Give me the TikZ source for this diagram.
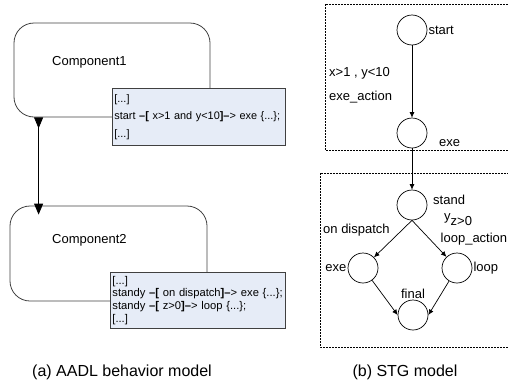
\documentclass[tikz,border=0pt]{standalone}
\usepackage{fontspec}
\setmainfont{Liberation Sans}
\usetikzlibrary{arrows.meta,calc}
\definecolor{codeblue}{RGB}{230,236,247}

\begin{document}
\begin{tikzpicture}[x=1pt,y=-1pt,>=Latex,
	compbox/.style={draw=black!75,rounded corners=20pt,minimum width=196pt,minimum height=94pt,line width=0.8pt},
	codebox/.style={draw=black!75,fill=codeblue,anchor=north west,align=left,inner sep=2pt,line width=0.8pt},
	state/.style={draw,circle,minimum size=30pt,inner sep=0pt,line width=0.7pt},
	lbl/.style={font=\fontsize{13}{15}\selectfont,inner sep=1pt},
	trans/.style={-{Latex[length=5.5pt,width=5pt]},line width=0.7pt},
	region/.style={draw,dash pattern=on 2pt off 1pt,line width=0.6pt}]
	
	\useasboundingbox (0,0) rectangle (508,383);
	
	% ======================================================
	% Left: AADL behavior model
	% ======================================================
	\node[compbox] (comp1) at (112,70) {};
	\node[lbl,anchor=west] (comp1txt) at (51,62) {Component1};
	
	\node[compbox,minimum width=197pt,minimum height=95pt] (comp2) at (108.5,253.5) {};
	\node[lbl,anchor=west] (comp2txt) at (51,240) {Component2};
	
	% Transition code boxes (drawn over the components)
	\node[codebox,text width=169pt,minimum height=57pt,font=\fontsize{10.9}{17.5}\selectfont] (code1) at (112,88)
	{[...]\\
		\mbox{start \textbf{–[} x>1 and y<10\textbf{]–}> exe \{...\};}\\{}%
		[...]};
	\node[codebox,text width=171pt,minimum height=56pt,font=\fontsize{11.2}{12.8}\selectfont] (code2) at (110,272)
	{[...]\\
		standy \textbf{–[} on dispatch\textbf{]–}> exe \{...\};\\
		standy \textbf{–[} z>0\textbf{]–}> loop \{...\};\\{}%
		[...]};
	
	% Connection between the components
	\draw[line width=0.8pt,{Triangle[length=11pt,width=9pt,reversed]}-{Triangle[length=11pt,width=9pt]}]
	([xshift=25pt]comp1.south west) -- ([xshift=29pt,yshift=-9pt]comp2.north west);
	
	\node[font=\fontsize{16}{18}\selectfont] (capa) at (122,372) {(a) AADL behavior model};
	
	% ======================================================
	% Right: STG model
	% ======================================================
	\draw[region] (325,4) rectangle (512,150);
	\draw[region] (320,173) rectangle (512,347);
	
	% States
	\node[state] (start) at (412,30) {};
	\node[state] (exe1) at (412,133) {};
	\node[state] (stand) at (412,205) {};
	\node[state] (exe2) at (363,268) {};
	\node[state] (loop) at (457,268) {};
	\node[state] (final) at (413,315) {};
	
	% State names
	\node[lbl,right] at (start.east) {start};
	\node[lbl,anchor=west] at (438,143) {exe};
	\node[lbl,anchor=west] at (432,200) {stand};
	\node[lbl,left] at (exe2.west) {exe};
	\node[lbl,right] at (loop.east) {loop};
	\node[lbl,above] at (final.north) {final};
	
	% Guards and actions
	\node[lbl,anchor=west] (g1) at (328,73) {x>1 , y<10};
	\node[lbl,anchor=west] (a1) at (328,97) {exe\_action};
	\node[lbl,anchor=west] (g2) at (322,230) {on dispatch};
	\node[lbl,anchor=west] (g3) at (443,220) {y\raisebox{-5pt}{z>0}};
	\node[lbl,anchor=west] (a3) at (439.5,239) {loop\_action};
	
	% Transitions
	\draw[trans] (start) -- (exe1);
	\draw[trans] (exe1) -- (stand);
	\draw[trans] (stand.south) -- (exe2);
	\draw[trans] (stand.south) -- (loop);
	\draw[trans] (exe2) -- (final.west);
	\draw[trans] (loop) -- (final.east);
	
	\node[font=\fontsize{16}{18}\selectfont] (capb) at (405,372) {(b) STG model};
	
\end{tikzpicture}
\end{document}
